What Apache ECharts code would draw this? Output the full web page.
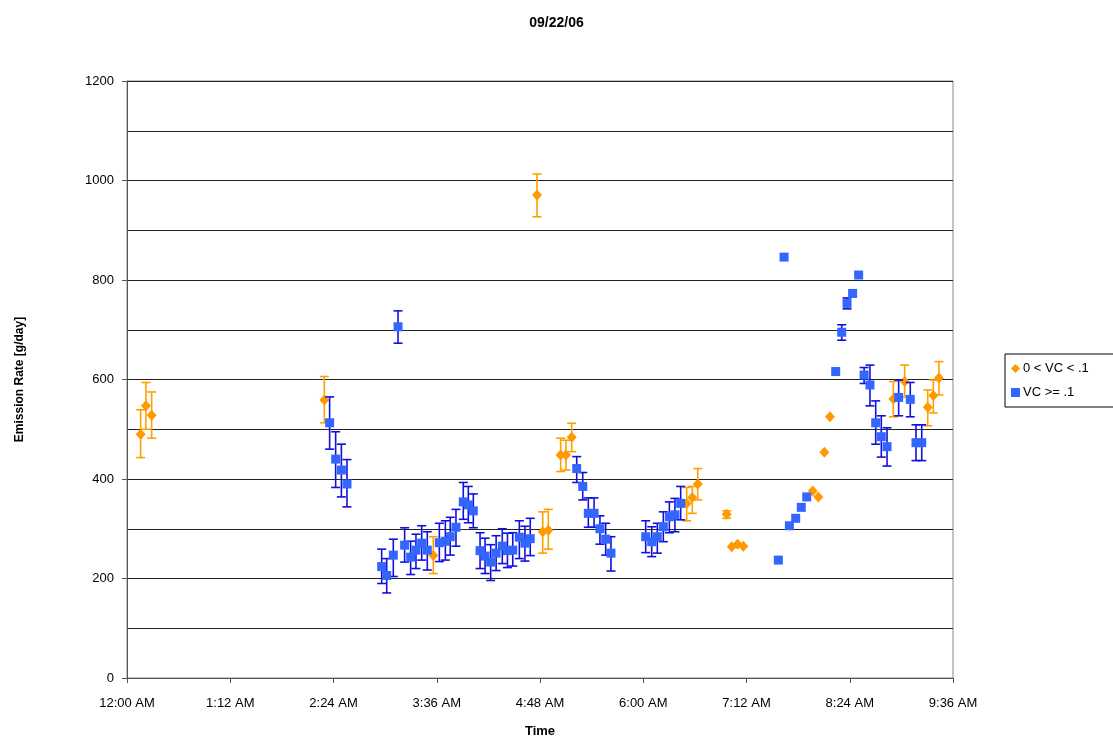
<!DOCTYPE html>
<html>
<head>
<meta charset="utf-8">
<title>09/22/06</title>
<script src="https://cdn.jsdelivr.net/npm/echarts@6/dist/echarts.min.js"></script>
<style>
  html, body { margin: 0; padding: 0; background: #fff; }
  #chart { width: 1113px; height: 740px; }
</style>
</head>
<body>
<div id="chart"></div>
<script>
// time is minutes after midnight
const timeTicks = ['12:00 AM', '1:12 AM', '2:24 AM', '3:36 AM', '4:48 AM', '6:00 AM', '7:12 AM', '8:24 AM', '9:36 AM']

// 0 < VC < .1 (orange diamonds)
const lowTime  = [9.5, 13.2, 17.2, 137.6, 213.6, 285.9, 289.9, 293.8, 302.4, 306.1, 310.1, 390.3, 394.2, 398.0, 418.2, 421.7, 425.8, 429.8, 478.2, 482.1, 486.3, 490.2, 534.4, 542.3, 558.4, 562.3, 566.2]
const lowValue = [490, 547, 528, 559, 246, 971, 294, 297, 448, 448, 484, 351, 363, 390, 329, 264, 269, 265, 376, 364, 454, 525, 561, 596, 544, 568, 603]
const lowMin   = [443, 500, 482, 513, 210, 927, 251, 259, 415, 418, 455, 316, 331, 358, 321, null, null, null, null, null, null, null, 525, 565, 507, 533, 569]
const lowMax   = [539, 594, 575, 606, 284, 1013, 334, 339, 482, 478, 512, 383, 385, 421, 336, null, null, null, null, null, null, null, 596, 629, 579, 599, 636]

// VC >= .1 (blue squares)
const highTime  = [141.3, 145.5, 149.5, 153.4, 177.6, 181.1, 185.7, 189.0, 193.6, 197.8, 201.5, 205.5, 209.4, 217.8, 222.0, 225.4, 229.4, 234.5, 238.0, 241.5, 246.2, 249.7, 253.6, 257.4, 261.7, 265.3, 269.0, 273.6, 277.5, 281.2, 313.6, 317.8, 321.7, 325.7, 329.8, 333.8, 337.5, 361.7, 365.9, 369.8, 374.0, 378.2, 382.1, 386.1, 454.2, 458.2, 461.9, 466.3, 470.2, 474.0, 494.2, 498.4, 502.1, 506.0, 510.2, 514.0, 518.1, 522.1, 526.0, 530.0, 538.1, 546.2, 550.2, 554.2]
const highValue = [513, 440, 418, 390, 224, 206, 247, 706, 267, 243, 257, 271, 257, 272, 275, 284, 303, 354, 348, 336, 256, 245, 233, 251, 265, 256, 257, 283, 271, 280, 421, 385, 331, 331, 300, 279, 251, 284, 274, 284, 304, 324, 328, 351, 237, 846, 306, 321, 343, 364, 616, 695, 753, 773, 810, 609, 589, 513, 485, 465, 564, 560, 473, 473]
const highMin   = [460, 383, 364, 344, 190, 171, 204, 673, 233, 208, 220, 237, 217, 234, 237, 247, 265, 319, 312, 302, 220, 210, 196, 216, 230, 222, 225, 240, 235, 246, 393, 358, 303, 303, 269, 247, 215, 252, 244, 251, 274, 292, 294, 318, null, null, null, null, null, null, null, 679, 742, null, null, 592, 547, 470, 444, 426, 527, 525, 437, 437]
const highMax   = [565, 495, 470, 439, 259, 240, 279, 738, 302, 275, 289, 306, 294, 311, 316, 323, 339, 393, 385, 370, 292, 281, 268, 286, 300, 291, 292, 316, 305, 321, 445, 413, 362, 362, 326, 311, 284, 316, 304, 311, 334, 354, 361, 385, null, null, null, null, null, null, null, 710, 764, null, null, 624, 629, 557, 527, 503, 599, 594, 509, 509]

const orange = '#FF9900'
const orangeBar = '#FFA000'
const blue = '#3366FF'
const blueBar = '#1010E0'
const font = 'Liberation Sans, Arial, sans-serif'

const pairs = (t, v) => t.map((x, i) => [x, v[i]])
const bars = (t, lo, hi) => t.map((x, i) => [x, lo[i], hi[i]]).filter(d => d[1] != null)

const errorBar = (color) => (params, api) => {
  const top = api.coord([api.value(0), api.value(2)])
  const bot = api.coord([api.value(0), api.value(1)])
  const cap = 4.5
  const style = { stroke: color, lineWidth: 1.6 }
  return {
    type: 'group',
    children: [
      { type: 'line', shape: { x1: top[0], y1: top[1], x2: bot[0], y2: bot[1] }, style },
      { type: 'line', shape: { x1: top[0] - cap, y1: top[1], x2: top[0] + cap, y2: top[1] }, style },
      { type: 'line', shape: { x1: bot[0] - cap, y1: bot[1], x2: bot[0] + cap, y2: bot[1] }, style }
    ]
  }
}

const chart = echarts.init(document.getElementById('chart'))
chart.setOption({
  animation: false,
  title: {
    text: '09/22/06',
    left: 'center',
    top: 11,
    textStyle: { fontFamily: font, fontSize: 14, fontWeight: 'bold', color: '#000' }
  },
  legend: {
    data: [
      { name: '0 < VC < .1', icon: 'diamond' },
      { name: 'VC >= .1', icon: 'rect' }
    ],
    orient: 'vertical',
    left: 1005,
    top: 354,
    itemWidth: 9,
    itemHeight: 9,
    itemGap: 11,
    padding: [8, 30, 8, 6],
    borderColor: '#000',
    borderWidth: 1,
    textStyle: { fontFamily: font, fontSize: 13, color: '#000', padding: [0, 0, 0, -2] }
  },
  grid: {
    left: 127,
    right: 160,
    top: 81,
    bottom: 62,
    outerBoundsMode: 'none',
    containLabel: false,
    show: true,
    borderColor: '#888',
    borderWidth: 1
  },
  xAxis: {
    type: 'value',
    min: 0,
    max: 576,
    interval: 72,
    name: 'Time',
    nameLocation: 'middle',
    nameGap: 47,
    nameTextStyle: { fontFamily: font, fontSize: 13, fontWeight: 'bold', color: '#000' },
    axisLine: { show: true, lineStyle: { color: '#555', width: 1 } },
    axisTick: { show: true, inside: false, length: 5, lineStyle: { color: '#555' } },
    axisLabel: {
      fontFamily: font, fontSize: 13, color: '#000', margin: 19,
      formatter: (v) => timeTicks[Math.round(v / 72)]
    },
    splitLine: { show: false }
  },
  yAxis: {
    type: 'value',
    min: 0,
    max: 1200,
    interval: 200,
    name: 'Emission Rate [g/day]',
    nameLocation: 'middle',
    nameGap: 101,
    nameTextStyle: { fontFamily: font, fontSize: 12, fontWeight: 'bold', color: '#000' },
    axisLine: { show: true, lineStyle: { color: '#555', width: 1 } },
    axisTick: { show: true, inside: false, length: 5, lineStyle: { color: '#555' } },
    axisLabel: { fontFamily: font, fontSize: 13, color: '#000', margin: 13, formatter: (v) => String(v) },
    splitLine: { show: true, lineStyle: { color: '#222', width: 1 } },
    minorTick: { show: false, splitNumber: 2 },
    minorSplitLine: { show: true, lineStyle: { color: '#222', width: 1 } }
  },
  series: [
    {
      name: 'lowBars',
      type: 'custom',
      renderItem: errorBar(orangeBar),
      data: bars(lowTime, lowMin, lowMax),
      encode: { x: 0, y: [1, 2] },
      silent: true,
      z: 2
    },
    {
      name: '0 < VC < .1',
      type: 'scatter',
      symbol: 'diamond',
      symbolSize: [10, 11],
      itemStyle: { color: orange, opacity: 1 },
      data: pairs(lowTime, lowValue),
      z: 3
    },
    {
      name: 'highBars',
      type: 'custom',
      renderItem: errorBar(blueBar),
      data: bars(highTime, highMin, highMax),
      encode: { x: 0, y: [1, 2] },
      silent: true,
      z: 4
    },
    {
      name: 'VC >= .1',
      type: 'scatter',
      symbol: 'rect',
      symbolSize: 9,
      itemStyle: { color: blue, opacity: 1 },
      data: pairs(highTime, highValue),
      z: 5
    }
  ]
})
</script>
</body>
</html>
